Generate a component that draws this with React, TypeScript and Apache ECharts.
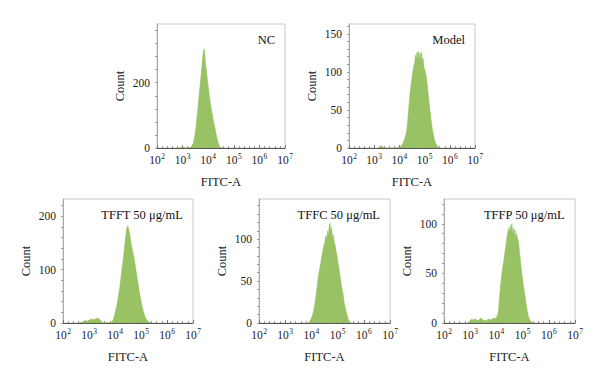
import React, { useEffect, useRef } from "react";
import * as echarts from "echarts";

// ---- Data (x = log10 FITC-A intensity, y = cell count) ----
const xTickExponents = [2, 3, 4, 5, 6, 7];

const ncLog = [2.85, 2.92, 2.98, 3.05, 3.12, 3.2, 3.3, 3.36, 3.42, 3.48, 3.52, 3.57, 3.62, 3.66, 3.7, 3.74, 3.78, 3.8, 3.82, 3.84, 3.86, 3.88, 3.9, 3.94, 3.98, 4.03, 4.08, 4.14, 4.2, 4.27, 4.33, 4.39, 4.44, 4.5, 4.6];
const ncCount = [0, 2, 1, 2, 0, 1, 2, 5, 15, 38, 62, 98, 140, 172, 203, 238, 270, 290, 298, 304, 292, 270, 258, 230, 201, 168, 138, 110, 85, 58, 34, 15, 5, 1, 0];

const modelLog = [3.2, 3.25, 3.3, 3.35, 3.4, 3.9, 3.95, 4.0, 4.05, 4.1, 4.16, 4.22, 4.28, 4.33, 4.37, 4.41, 4.45, 4.49, 4.53, 4.57, 4.61, 4.64, 4.67, 4.7, 4.73, 4.76, 4.79, 4.82, 4.85, 4.88, 4.91, 4.94, 4.97, 5.0, 5.04, 5.08, 5.12, 5.16, 5.21, 5.26, 5.31, 5.37, 5.43, 5.49, 5.55, 5.6];
const modelCount = [0, 2, 3, 1, 0, 0, 1, 1, 2, 4, 8, 13, 20, 35, 52, 67, 80, 90, 100, 107, 112, 122, 115, 126, 117, 127, 112, 125, 116, 126, 111, 118, 106, 104, 98, 92, 78, 65, 50, 36, 24, 14, 7, 3, 1, 0];

const tfftLog = [2.6, 2.7, 2.8, 2.9, 2.95, 3.0, 3.1, 3.2, 3.3, 3.38, 3.45, 3.52, 3.6, 3.7, 3.8, 3.88, 3.92, 3.97, 4.02, 4.08, 4.13, 4.18, 4.23, 4.28, 4.33, 4.38, 4.42, 4.46, 4.49, 4.52, 4.55, 4.59, 4.63, 4.67, 4.72, 4.76, 4.8, 4.84, 4.88, 4.93, 4.98, 5.03, 5.08, 5.14, 5.2, 5.27, 5.33, 5.4];
const tfftCount = [0, 1, 3, 5, 3, 5, 7, 6, 9, 8, 4, 1, 0, 1, 0, 2, 5, 12, 22, 35, 50, 65, 85, 105, 125, 148, 165, 178, 182, 176, 170, 158, 146, 135, 125, 113, 100, 88, 76, 60, 46, 34, 23, 13, 7, 3, 1, 0];

const tffcLog = [3.9, 3.94, 3.99, 4.04, 4.09, 4.13, 4.18, 4.22, 4.26, 4.3, 4.35, 4.41, 4.46, 4.51, 4.55, 4.58, 4.62, 4.65, 4.68, 4.71, 4.74, 4.77, 4.8, 4.84, 4.87, 4.9, 4.94, 4.98, 5.02, 5.05, 5.09, 5.13, 5.17, 5.21, 5.25, 5.3, 5.34, 5.39, 5.43, 5.47, 5.52];
const tffcCount = [0, 2, 5, 9, 15, 22, 33, 44, 54, 62, 70, 82, 90, 96, 104, 100, 110, 104, 115, 119, 108, 114, 102, 105, 96, 94, 86, 80, 70, 66, 56, 48, 40, 34, 24, 17, 12, 6, 3, 1, 0];

const tffpLog = [2.9, 3.0, 3.05, 3.1, 3.2, 3.3, 3.4, 3.5, 3.6, 3.7, 3.8, 3.88, 3.95, 4.0, 4.04, 4.08, 4.12, 4.16, 4.2, 4.24, 4.28, 4.32, 4.36, 4.4, 4.44, 4.47, 4.5, 4.53, 4.56, 4.59, 4.62, 4.65, 4.68, 4.71, 4.74, 4.77, 4.8, 4.84, 4.88, 4.92, 4.96, 5.0, 5.04, 5.09, 5.14, 5.19, 5.24, 5.29, 5.34, 5.4];
const tffpCount = [0, 2, 4, 3, 4, 2, 5, 3, 2, 4, 3, 5, 4, 6, 7, 12, 26, 38, 48, 56, 62, 70, 78, 86, 92, 96, 90, 98, 92, 100, 88, 96, 86, 94, 84, 90, 86, 82, 72, 62, 52, 44, 36, 28, 18, 10, 5, 2, 1, 0];

const panelTitles = ["NC", "Model", "TFFT 50 μg/mL", "TFFC 50 μg/mL", "TFFP 50 μg/mL"];
const yMaxes = [380, 163, 232, 148, 125];
const yTickSteps = [40, 10, 20, 10, 10];
const yLabelValues = [[0, 200], [0, 50, 100, 150], [0, 100, 200], [0, 50, 100], [0, 50, 100]];

// ---- Layout ----
const boxes = [
  { left: 157, top: 24, width: 128, height: 124 },
  { left: 349, top: 24, width: 126, height: 124 },
  { left: 63, top: 199, width: 130, height: 124 },
  { left: 259, top: 199, width: 131, height: 124 },
  { left: 444, top: 199, width: 131, height: 124 },
];

const FONT = "'Liberation Serif', 'DejaVu Serif', serif";
const GREEN = "#93bf5c";

export default function App() {
  const ref = useRef<HTMLDivElement>(null);
  useEffect(() => {
    document.body.style.margin = "0";
    if (!ref.current) return;
    const chart = echarts.init(ref.current, undefined, { renderer: "svg" });
    const logs = [ncLog, modelLog, tfftLog, tffcLog, tffpLog];
    const counts = [ncCount, modelCount, tfftCount, tffcCount, tffpCount];

    const grid = boxes.map((b) => ({
      left: b.left,
      top: b.top,
      width: b.width,
      height: b.height,
      show: true,
      borderColor: "#c8c8c8",
      borderWidth: 1,
      backgroundColor: "transparent",
    }));

    const xAxis = boxes.map((_, i) => ({
      type: "value",
      gridIndex: i,
      min: xTickExponents[0],
      max: xTickExponents[xTickExponents.length - 1],
      interval: 1,
      name: "FITC-A",
      nameLocation: "middle",
      nameGap: 27,
      nameTextStyle: { fontFamily: FONT, fontSize: 12.5, color: "#222" },
      axisLine: { show: true, lineStyle: { color: "#555", width: 1 } },
      axisTick: { show: true, inside: true, length: 3, lineStyle: { color: "#777" } },
      minorTick: { show: true, splitNumber: 5, length: 2, lineStyle: { color: "#999" } },
      splitLine: { show: false },
      axisLabel: {
        fontFamily: FONT,
        color: "#222",
        margin: 4,
        formatter: (v: number) => `{b|10}{s|${v}}`,
        rich: {
          b: { fontFamily: FONT, fontSize: 11.5, color: "#222", lineHeight: 14, verticalAlign: "bottom" },
          s: { fontFamily: FONT, fontSize: 7.5, color: "#222", lineHeight: 14, verticalAlign: "top", padding: [0, 0, 0, 0.5] },
        },
      },
    }));

    const yAxis = boxes.map((_, i) => ({
      type: "value",
      gridIndex: i,
      min: 0,
      max: yMaxes[i],
      interval: yTickSteps[i],
      name: "Count",
      nameLocation: "middle",
      nameGap: 31,
      nameTextStyle: { fontFamily: FONT, fontSize: 12.5, color: "#222" },
      axisLine: { show: true, lineStyle: { color: "#aaa", width: 1 } },
      axisTick: { show: true, inside: false, length: 2, lineStyle: { color: "#999" } },
      splitLine: { show: false },
      axisLabel: {
        fontFamily: FONT,
        fontSize: 11.5,
        color: "#222",
        margin: 7,
        showMaxLabel: false,
        formatter: (v: number) => (yLabelValues[i].includes(v) ? String(v) : ""),
      },
    }));

    const series = boxes.map((_, i) => ({
      type: "line",
      xAxisIndex: i,
      yAxisIndex: i,
      data: logs[i].map((x, k) => [x, counts[i][k]]),
      symbol: "none",
      showSymbol: false,
      lineStyle: { color: GREEN, width: 0.6 },
      areaStyle: { color: GREEN, opacity: 0.95 },
      z: 1,
    }));

    const title = boxes.map((b, i) => ({
      text: panelTitles[i],
      right: 600 - (b.left + b.width) + 5,
      top: b.top + 4,
      textStyle: { fontFamily: FONT, fontSize: 12.5, fontWeight: "normal", color: "#111" },
    }));

    chart.setOption({
      animation: false,
      backgroundColor: "#fff",
      title,
      grid,
      xAxis,
      yAxis,
      series,
    });
    return () => chart.dispose();
  }, []);
  return <div ref={ref} style={{ width: 600, height: 380 }} />;
}
